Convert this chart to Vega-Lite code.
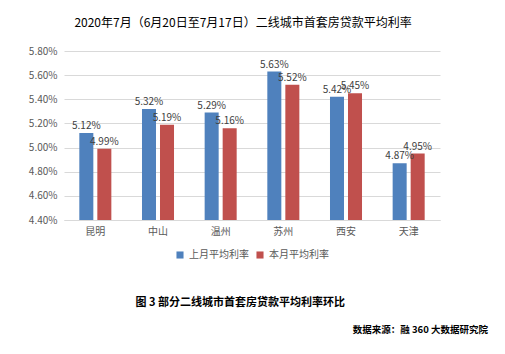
{
  "$schema": "https://vega.github.io/schema/vega-lite/v6.json",
  "padding": {"left": 28, "top": 17, "right": 5, "bottom": 5},
  "background": "white",
  "config": {
    "font": "Noto Sans CJK SC",
    "view": {"stroke": null},
    "concat": {"spacing": 0},
    "legend": {"layout": {"bottom": {"anchor": "middle"}}}
  },
  "title": {
    "text": "数据来源：融 360 大数据研究院",
    "orient": "bottom",
    "anchor": "end",
    "fontSize": 9.5,
    "fontWeight": "bold",
    "color": "#000000",
    "offset": 17,
    "dx": 48
  },
  "resolve": {"legend": {"color": "independent"}},
  "vconcat": [
    {
      "title": {
        "text": "图 3 部分二线城市首套房贷款平均利率环比",
        "orient": "bottom",
        "anchor": "middle",
        "fontSize": 11,
        "fontWeight": "bold",
        "color": "#000000",
        "offset": 37,
        "dx": 6
      },
      "resolve": {"legend": {"color": "independent"}},
      "vconcat": [
        {
          "width": 376,
          "height": 169,
          "title": {
            "text": "2020年7月（6月20日至7月17日）二线城市首套房贷款平均利率",
            "fontSize": 12,
            "fontWeight": "normal",
            "color": "#000000",
            "anchor": "middle",
            "offset": 16,
            "dx": -9
          },
          "data": {
            "values": [
              {"city": "昆明", "series": "上月平均利率", "rate": 0.0512},
              {"city": "昆明", "series": "本月平均利率", "rate": 0.0499},
              {"city": "中山", "series": "上月平均利率", "rate": 0.0532},
              {"city": "中山", "series": "本月平均利率", "rate": 0.0519},
              {"city": "温州", "series": "上月平均利率", "rate": 0.0529},
              {"city": "温州", "series": "本月平均利率", "rate": 0.0516},
              {"city": "苏州", "series": "上月平均利率", "rate": 0.0563},
              {"city": "苏州", "series": "本月平均利率", "rate": 0.0552},
              {"city": "西安", "series": "上月平均利率", "rate": 0.0542},
              {"city": "西安", "series": "本月平均利率", "rate": 0.0545},
              {"city": "天津", "series": "上月平均利率", "rate": 0.0487},
              {"city": "天津", "series": "本月平均利率", "rate": 0.0495}
            ]
          },
          "encoding": {
            "x": {
              "field": "city",
              "type": "nominal",
              "sort": null,
              "scale": {"paddingInner": 0.489, "paddingOuter": 0.2445},
              "axis": {
                "title": null,
                "labelAngle": 0,
                "labelFontSize": 10,
                "labelColor": "#595959",
                "labelPadding": 6,
                "ticks": false,
                "domainColor": "#d9d9d9",
                "grid": false
              }
            },
            "xOffset": {
              "field": "series",
              "type": "nominal",
              "scale": {"paddingInner": 0.222, "paddingOuter": 0}
            },
            "y": {
              "field": "rate",
              "type": "quantitative",
              "scale": {"domain": [0.044, 0.058], "nice": false, "zero": false},
              "axis": {
                "title": null,
                "format": ".2%",
                "values": [0.044, 0.046, 0.048, 0.05, 0.052, 0.054, 0.056, 0.058],
                "labelFontSize": 10,
                "labelColor": "#595959",
                "labelPadding": 7,
                "ticks": false,
                "domain": false,
                "gridColor": "#d9d9d9"
              }
            }
          },
          "layer": [
            {
              "mark": {"type": "bar", "clip": true},
              "encoding": {
                "color": {
                  "field": "series",
                  "type": "nominal",
                  "scale": {"domain": ["上月平均利率", "本月平均利率"], "range": ["#4f81bd", "#c0504d"]},
                  "legend": {
                    "orient": "bottom",
                    "direction": "horizontal",
                    "title": null,
                    "symbolType": "square",
                    "symbolSize": 50,
                    "symbolStrokeWidth": 0,
                    "labelFontSize": 10,
                    "labelColor": "#595959",
                    "columnPadding": 6,
                    "labelOffset": 4,
                    "offset": 14
                  }
                }
              }
            },
            {
              "mark": {"type": "text", "dy": -7, "fontSize": 10, "color": "#404040"},
              "encoding": {
                "text": {"field": "rate", "type": "quantitative", "format": ".2%"}
              }
            }
          ]
        }
      ]
    }
  ]
}
